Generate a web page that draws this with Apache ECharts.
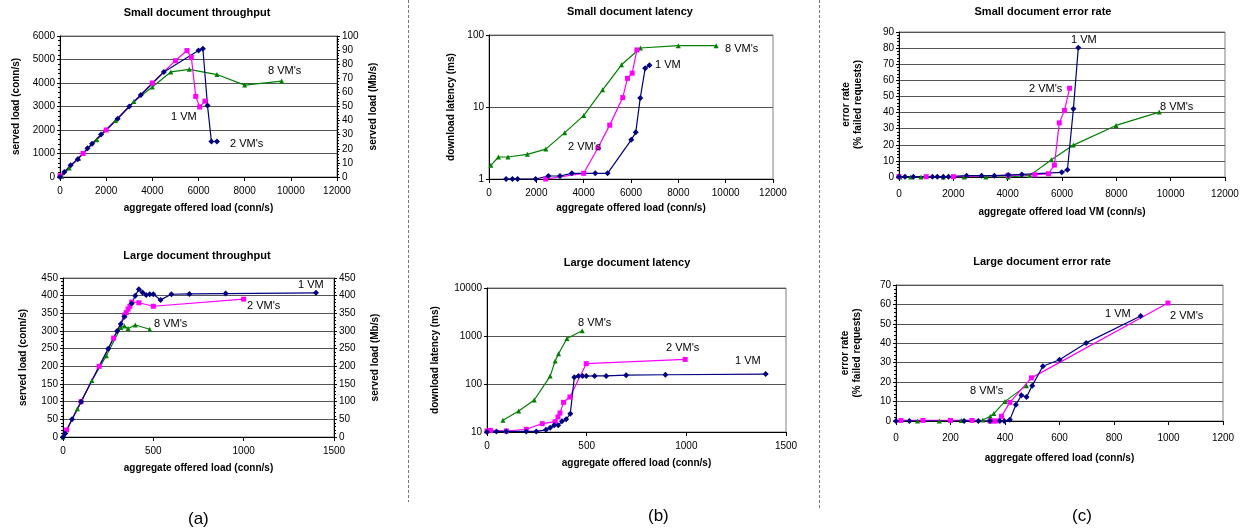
<!DOCTYPE html>
<html><head><meta charset="utf-8">
<script src="https://cdn.jsdelivr.net/npm/echarts@6/dist/echarts.min.js"></script>
<style>html,body{margin:0;padding:0;background:#fff}#c{width:1247px;height:531px}</style>
</head><body><div id="c"></div>
<script>
// ---- data (x = aggregate offered load, y = value) ----
const smTp1VM = [[0,0],[190,210],[460,500],[770,760],[1190,1220],[1390,1415],[1780,1810],[2500,2480],[3000,3000],[3500,3490],[4500,4470],[6000,5380],[6190,5460],[6390,3040],[6560,1510],[6800,1510]];
const smTp2VM = [[0,50],[1000,1000],[2000,2000],[4000,4000],[5000,4950],[5500,5380],[5690,5090],[5880,3430],[6050,2980],[6280,3230]];
const smTp8VM = [[80,30],[400,380],[800,790],[1600,1590],[2400,2400],[3200,3210],[4000,3830],[4800,4470],[5600,4580],[6800,4360],[8000,3910],[9600,4080]];

const lgTp1VM = [[0,0],[12,10],[50,50],[100,100],[250,250],[300,300],[320,320],[340,340],[380,378],[400,400],[420,418],[440,409],[460,402],[480,404],[500,404],[540,388],[600,404],[700,405],[900,406],[1400,408]];
const lgTp2VM = [[20,20],[100,100],[200,200],[280,280],[340,345],[350,352],[360,362],[370,370],[380,382],[420,380],[500,370],[1000,390]];
const lgTp8VM = [[0,0],[80,80],[160,160],[240,230],[320,310],[340,314],[360,307],[400,317],[480,305]];

const smLat1VM = [[720,1],[990,1],[1210,1],[1970,1],[2510,1.1],[3000,1.1],[3500,1.2],[4490,1.2],[5010,1.2],[6010,3.5],[6200,4.45],[6390,13.3],[6600,34.6],[6780,38]];
const smLat2VM = [[2400,1],[4000,1.2],[4600,2.7],[5100,5.6],[5650,13.5],[5850,25],[6050,29.5],[6250,62]];
const smLat8VM = [[80,1.55],[400,2.02],[800,2.02],[1620,2.2],[2400,2.6],[3200,4.4],[4000,7.6],[4800,17.3],[5600,38.6],[6400,66],[8000,71],[9600,71]];

const lgLat1VM = [[0,10],[47,10.3],[97,10.3],[197,10.3],[247,10.3],[296,11.1],[317,12.3],[337,13.8],[357,13.8],[376,16.7],[397,18.4],[418,24],[438,138],[459,146],[479,146],[498,146],[540,147],[598,147],[698,153],[895,156],[1398,161]];
const lgLat2VM = [[0,10.5],[17,10.8],[97,10.5],[197,11.4],[277,14.9],[342,16.4],[356,20.5],[366,24.9],[384,41.5],[416,53.6],[498,265],[994,325]];
const lgLat8VM = [[80,17.5],[159,27.4],[237,46.4],[317,146],[342,301],[359,428],[401,890],[478,1290]];

const smErr1VM = [[0,0.2],[220,0.2],[530,0.2],[1230,0.2],[1410,0.2],[1630,0.2],[1820,0.2],[2490,0.8],[3040,0.8],[3510,0.8],[4020,1.2],[4520,1.6],[5990,2.9],[6200,4.5],[6420,42.3],[6600,80.3]];
const smErr2VM = [[0,0.3],[1000,0.2],[2000,0.2],[4020,1],[5000,1.4],[5500,2],[5720,7.4],[5900,33.6],[6090,41.3],[6280,55.1]];
const smErr8VM = [[40,0],[430,0],[810,0],[1630,0],[2400,0],[3200,0],[4020,0],[4820,1],[5610,10.7],[6420,19.8],[7990,32],[9580,40.3]];

const lgErr1VM = [[0,0],[49,0],[250,0],[302,0],[345,0],[381,0],[397,0],[418,0.7],[440,8.4],[460,13.2],[479,12.4],[500,18.2],[539,28.2],[600,31.5],[698,40.2],[898,54]];
const lgErr2VM = [[18,0.3],[99,0.3],[200,0.3],[279,0.3],[345,0],[357,0],[367,0],[387,2.4],[418,9.6],[497,22.2],[998,60.7]];
const lgErr8VM = [[79,0],[159,0],[240,0.3],[319,0.5],[346,2.4],[359,3.8],[400,10.1],[479,18.2]];

const titles = ['Small document throughput','Large document throughput','Small document latency','Large document latency','Small document error rate','Large document error rate'];
const xName = 'aggregate offered load (conn/s)';
const xNameVM = 'aggregate offered load VM (conn/s)';

// ---- styling ----
const FF = 'Liberation Sans, Arial, sans-serif';
const C1 = '#000080', C2 = '#FF00FF', C8 = '#008000';
const chart = echarts.init(document.getElementById('c'));
const plain = v => String(v);

const grids = [
  {left:60, top:36, width:277, height:141},
  {left:63, top:278, width:271, height:159},
  {left:489, top:35, width:284, height:144},
  {left:487, top:288, width:299, height:144},
  {left:899, top:32, width:326, height:145},
  {left:896, top:285, width:327, height:136}
].map(g => Object.assign({show:true, borderColor:'#808080', borderWidth:1, backgroundColor:'#fff'}, g));

function xAx(gi, max, interval, margin, gap, name) {
  return {type:'value', gridIndex:gi, min:0, max:max, interval:interval,
    name:name, nameLocation:'middle', nameGap:gap,
    nameTextStyle:{fontFamily:FF, fontSize:10, fontWeight:'bold', color:'#000'},
    axisLine:{lineStyle:{color:'#000', width:1}},
    axisTick:{show:true, length:4, lineStyle:{color:'#000'}},
    axisLabel:{fontFamily:FF, fontSize:10, color:'#000', margin:margin, formatter:plain},
    splitLine:{show:false}};
}
function yAx(gi, opts) {
  return Object.assign({type:'value', gridIndex:gi, min:0,
    nameLocation:'middle', nameRotate:90,
    nameTextStyle:{fontFamily:FF, fontSize:10, fontWeight:'bold', color:'#000', lineHeight:12},
    axisLine:{show:true, lineStyle:{color:'#000', width:1}},
    axisTick:{show:true, length:3, lineStyle:{color:'#000'}},
    minorTick:{show:true, splitNumber:5, length:2, lineStyle:{color:'#000'}},
    axisLabel:{fontFamily:FF, fontSize:10, color:'#000', margin:5, formatter:plain},
    splitLine:{show:true, lineStyle:{color:'#555', width:1}}}, opts);
}

const xAxis = [
  xAx(0, 12000, 2000, 9, 26, xName),
  xAx(1, 1500, 500, 9, 26, xName),
  xAx(2, 12000, 2000, 9, 24, xName),
  xAx(3, 1500, 500, 9, 26, xName),
  xAx(4, 12000, 2000, 12, 30, xNameVM),
  xAx(5, 1200, 200, 12, 32, xName)
];
const yAxis = [
  yAx(0, {max:6000, interval:1000, name:'served load (conn/s)', nameGap:38}),
  yAx(0, {max:100, interval:10, position:'right', name:'served load (Mb/s)', nameGap:30, splitLine:{show:false}}),
  yAx(1, {max:450, interval:50, name:'served load (conn/s)', nameGap:34}),
  yAx(1, {max:450, interval:50, position:'right', name:'served load (Mb/s)', nameGap:35, splitLine:{show:false}}),
  yAx(2, {type:'log', logBase:10, min:1, max:100, name:'download latency (ms)', nameGap:32, minorTick:{show:false}}),
  yAx(3, {type:'log', logBase:10, min:10, max:10000, name:'download latency (ms)', nameGap:46, minorTick:{show:false}}),
  yAx(4, {max:90, interval:10, name:'error rate\n(% failed requests)', nameGap:35}),
  yAx(5, {max:70, interval:10, name:'error rate\n(% failed requests)', nameGap:33})
];

function ser(data, color, symbol, xi, yi) {
  return {type:'line', data:data, xAxisIndex:xi, yAxisIndex:yi, color:color,
    symbol:symbol, symbolSize: symbol==='diamond'?6:5, showSymbol:true,
    lineStyle:{color:color, width:1.2}, itemStyle:{color:color},
    animation:false, z:3};
}
const series = [
  ser(smTp8VM, C8, 'triangle', 0, 0), ser(smTp2VM, C2, 'rect', 0, 0), ser(smTp1VM, C1, 'diamond', 0, 0),
  ser(lgTp8VM, C8, 'triangle', 1, 2), ser(lgTp2VM, C2, 'rect', 1, 2), ser(lgTp1VM, C1, 'diamond', 1, 2),
  ser(smLat8VM, C8, 'triangle', 2, 4), ser(smLat2VM, C2, 'rect', 2, 4), ser(smLat1VM, C1, 'diamond', 2, 4),
  ser(lgLat8VM, C8, 'triangle', 3, 5), ser(lgLat2VM, C2, 'rect', 3, 5), ser(lgLat1VM, C1, 'diamond', 3, 5),
  ser(smErr8VM, C8, 'triangle', 4, 6), ser(smErr2VM, C2, 'rect', 4, 6), ser(smErr1VM, C1, 'diamond', 4, 6),
  ser(lgErr8VM, C8, 'triangle', 5, 7), ser(lgErr2VM, C2, 'rect', 5, 7), ser(lgErr1VM, C1, 'diamond', 5, 7)
];

const titlePos = [[197,7],[197,250],[630,6],[627,257],[1043,6],[1042,256]];
const title = titles.map((t,i)=>({text:t, left:titlePos[i][0], top:titlePos[i][1], textAlign:'center', padding:0,
  textStyle:{fontFamily:FF, fontSize:11, fontWeight:'bold', color:'#000'}}));

function txt(s, x, y, size) {
  return {type:'text', left:x, top:y, z:10, style:{text:s, fontFamily:FF, fontSize:size||11, fill:'#000'}};
}
const graphic = [
  {type:'line', shape:{x1:408.5,y1:0,x2:408.5,y2:502}, style:{stroke:'#777', lineWidth:1, lineDash:[3,2]}},
  {type:'line', shape:{x1:819.5,y1:0,x2:819.5,y2:510}, style:{stroke:'#777', lineWidth:1, lineDash:[3,2]}},
  txt('8 VM\'s', 268, 65), txt('1 VM', 171, 111), txt('2 VM\'s', 230, 138),
  txt('1 VM', 298, 279), txt('2 VM\'s', 247, 300), txt('8 VM\'s', 154, 318),
  txt('8 VM\'s', 725, 43), txt('1 VM', 655, 59), txt('2 VM\'s', 568, 141),
  txt('8 VM\'s', 578, 317), txt('2 VM\'s', 666, 342), txt('1 VM', 735, 355),
  txt('1 VM', 1071, 34), txt('2 VM\'s', 1029, 83), txt('8 VM\'s', 1160, 101),
  txt('1 VM', 1105, 308), txt('2 VM\'s', 1170, 310), txt('8 VM\'s', 970, 385),
  txt('(a)', 188, 511, 17), txt('(b)', 648, 508, 17), txt('(c)', 1072, 508, 17)
];

chart.setOption({animation:false, backgroundColor:'#fff', title, grid:grids, xAxis, yAxis, series, graphic});
</script></body></html>
